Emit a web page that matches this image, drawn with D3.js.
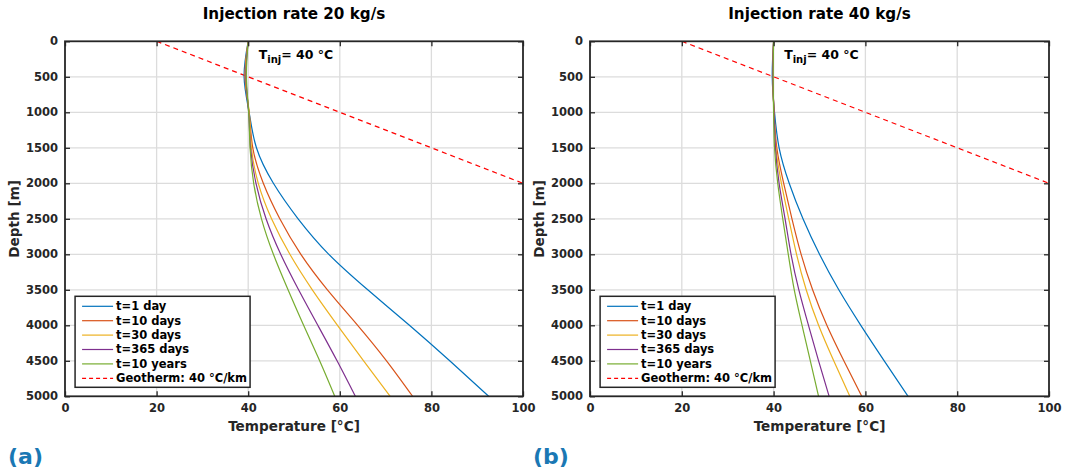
<!DOCTYPE html>
<html>
<head>
<meta charset="utf-8">
<script src="https://cdn.jsdelivr.net/npm/d3@7"></script>
<style>
  body { margin: 0; background: #fff; }
  text { font-family: "DejaVu Sans", sans-serif; font-weight: bold; }
</style>
</head>
<body>
<svg id="chart"></svg>
<script>
// depth samples [m]
const depths = [0, 500, 1000, 1500, 2000, 2500, 3000, 3500, 4000, 4500, 5000];

const seriesNames = ["t=1 day", "t=10 days", "t=30 days", "t=365 days", "t=10 years"];
const seriesColors = ["#0072BD", "#D95319", "#EDB120", "#7E2F8E", "#77AC30"];

// Injection rate 20 kg/s, temperature [°C] at each depth
const rate20_1day    = [40, 39.1, 40.2, 41.8, 45.5, 50.9, 57.6, 66.1, 75.2, 84.0, 92.5];
const rate20_10days  = [40, 39.3, 40.2, 41.0, 43.3, 46.9, 51.5, 57.3, 63.9, 70.2, 75.9];
const rate20_30days  = [40, 39.4, 40.2, 40.7, 42.2, 45.1, 49.1, 54.0, 59.5, 65.2, 71.0];
const rate20_365days = [40, 39.5, 40.1, 40.5, 41.7, 43.9, 47.1, 51.0, 55.2, 59.4, 63.4];
const rate20_10years = [40, 39.6, 40.1, 40.4, 41.2, 42.9, 45.5, 48.7, 52.1, 55.6, 58.9];

// Injection rate 40 kg/s
const rate40_1day    = [40, 39.7, 40.2, 41.2, 43.4, 46.4, 50.0, 54.2, 59.0, 64.1, 69.3];
const rate40_10days  = [40, 39.8, 40.1, 40.7, 42.2, 44.0, 46.0, 48.5, 51.6, 55.3, 59.2];
const rate40_30days  = [40, 39.8, 40.1, 40.5, 41.7, 43.3, 45.0, 47.1, 49.8, 53.1, 56.6];
const rate40_365days = [40, 39.8, 40.1, 40.4, 41.2, 42.5, 43.8, 45.5, 47.6, 49.8, 52.1];
const rate40_10years = [40, 39.9, 40.0, 40.2, 40.9, 42.0, 43.2, 44.5, 46.2, 48.0, 49.8];

// geotherm 40 °C/km from 20 °C at surface
const geoDepths = [0, 2000];
const geoTemps = [20, 100];

const xTicks = [0, 20, 40, 60, 80, 100];
const yTicks = [0, 500, 1000, 1500, 2000, 2500, 3000, 3500, 4000, 4500, 5000];

const panels = [
  { title: "Injection rate 20 kg/s", tag: "(a)", left: 65, right: 523,
    series: [rate20_1day, rate20_10days, rate20_30days, rate20_365days, rate20_10years] },
  { title: "Injection rate 40 kg/s", tag: "(b)", left: 590, right: 1049,
    series: [rate40_1day, rate40_10days, rate40_30days, rate40_365days, rate40_10years] }
];

const W = 1070, H = 475;
const plotTop = 41.3, plotBottom = 396.3;
const axisColor = "#262626";

const svg = d3.select("#chart").attr("width", W).attr("height", H);

panels.forEach(p => {
  const width = p.right - p.left, height = plotBottom - plotTop;
  const x = d3.scaleLinear().domain([0, 100]).range([0, width]);
  const y = d3.scaleLinear().domain([0, 5000]).range([0, height]);

  const g = svg.append("g").attr("transform", `translate(${p.left},${plotTop})`);

  // grid
  g.append("g").selectAll("line").data(xTicks.slice(1, -1)).join("line")
    .attr("x1", d => x(d)).attr("x2", d => x(d)).attr("y1", 0).attr("y2", height)
    .attr("stroke", "#dcdcdc").attr("stroke-width", 1.3);
  g.append("g").selectAll("line").data(yTicks.slice(1, -1)).join("line")
    .attr("y1", d => y(d)).attr("y2", d => y(d)).attr("x1", 0).attr("x2", width)
    .attr("stroke", "#dcdcdc").attr("stroke-width", 1.3);

  const clip = "clip" + p.tag.replace(/\W/g, "");
  g.append("clipPath").attr("id", clip).append("rect").attr("width", width).attr("height", height);

  // geotherm
  g.append("path")
    .datum(geoDepths.map((dd, i) => [geoTemps[i], dd]))
    .attr("clip-path", `url(#${clip})`)
    .attr("fill", "none").attr("stroke", "#FF0000").attr("stroke-width", 1.2)
    .attr("stroke-dasharray", "5,4")
    .attr("d", d3.line().x(d => x(d[0])).y(d => y(d[1])));

  const line = d3.line().x(d => x(d[0])).y(d => y(d[1])).curve(d3.curveNatural);
  p.series.forEach((s, i) => {
    g.append("path")
      .datum(depths.map((dd, k) => [s[k], dd]))
      .attr("fill", "none").attr("stroke", seriesColors[i]).attr("stroke-width", 1.2)
      .attr("d", line);
  });

  // axes (ticks inside, box)
  const xAx = g.append("g").attr("transform", `translate(0,${height})`)
    .call(d3.axisBottom(x).tickValues(xTicks).tickSize(-5).tickPadding(8).tickFormat(d3.format("d")));
  const xTop = g.append("g").call(d3.axisTop(x).tickValues(xTicks).tickSize(-5).tickFormat(""));
  const yAx = g.append("g")
    .call(d3.axisLeft(y).tickValues(yTicks).tickSize(-5).tickPadding(7).tickFormat(d3.format("d")));
  const yRight = g.append("g").attr("transform", `translate(${width},0)`)
    .call(d3.axisRight(y).tickValues(yTicks).tickSize(-5).tickFormat(""));
  [xAx, xTop, yAx, yRight].forEach(a => {
    a.select(".domain").remove();
    a.selectAll("line").attr("stroke", axisColor).attr("stroke-width", 1.3);
    a.selectAll("text").attr("fill", axisColor).style("font-size", "11.5px");
  });
  g.append("rect").attr("width", width).attr("height", height)
    .attr("fill", "none").attr("stroke", axisColor).attr("stroke-width", 1.8);

  // titles and labels
  g.append("text").attr("x", width / 2).attr("y", -22).attr("text-anchor", "middle")
    .style("font-size", "15.2px").attr("fill", "#000").text(p.title);
  g.append("text").attr("x", width / 2).attr("y", height + 35).attr("text-anchor", "middle")
    .style("font-size", "13.6px").attr("fill", axisColor).text("Temperature [°C]");
  g.append("text").attr("transform", `translate(${-46},${height / 2}) rotate(-90)`)
    .attr("text-anchor", "middle").style("font-size", "13.6px").attr("fill", axisColor).text("Depth [m]");

  const tinj = g.append("text").attr("x", x(42.3)).attr("y", 17.5).style("font-size", "12.5px").attr("fill", "#000");
  tinj.append("tspan").text("T");
  tinj.append("tspan").attr("dy", 4).style("font-size", "10px").text("inj");
  tinj.append("tspan").attr("dy", -4).text("= 40 °C");

  svg.append("text").attr("x", p.left - 57).attr("y", 464)
    .style("font-size", "22px").attr("fill", "#1A78B4").text(p.tag);

  // legend
  const lg = g.append("g").attr("transform", `translate(${x(2.2)},${height - 100})`);
  lg.append("rect").attr("width", 175).attr("height", 91)
    .attr("fill", "#fff").attr("stroke", axisColor).attr("stroke-width", 1.5);
  const items = seriesNames.map((n, i) => ({ name: n, color: seriesColors[i], dash: null }))
    .concat([{ name: "Geotherm: 40 °C/km", color: "#FF0000", dash: "4,3" }]);
  items.forEach((it, i) => {
    const yy = 10 + i * 14.4;
    lg.append("line").attr("x1", 7).attr("x2", 38).attr("y1", yy).attr("y2", yy)
      .attr("stroke", it.color).attr("stroke-width", 1.2).attr("stroke-dasharray", it.dash);
    lg.append("text").attr("x", 41).attr("y", yy + 4).style("font-size", "11.5px")
      .attr("fill", "#000").text(it.name);
  });
});
</script>
</body>
</html>
